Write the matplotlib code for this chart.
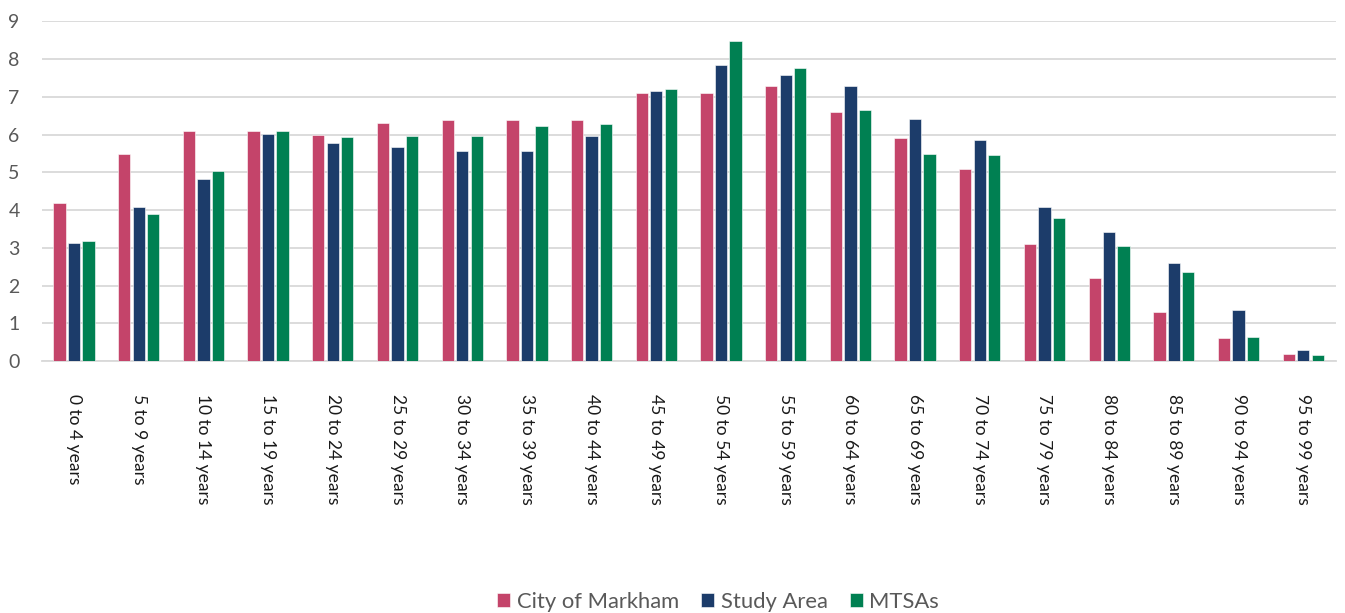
import numpy as np
import matplotlib.pyplot as plt

age_groups = ["0 to 4 years", "5 to 9 years", "10 to 14 years", "15 to 19 years",
              "20 to 24 years", "25 to 29 years", "30 to 34 years", "35 to 39 years",
              "40 to 44 years", "45 to 49 years", "50 to 54 years", "55 to 59 years",
              "60 to 64 years", "65 to 69 years", "70 to 74 years", "75 to 79 years",
              "80 to 84 years", "85 to 89 years", "90 to 94 years", "95 to 99 years"]

city_of_markham = [4.2, 5.5, 6.1, 6.1, 6.0, 6.3, 6.4, 6.4, 6.4, 7.1,
                   7.1, 7.3, 6.6, 5.9, 5.1, 3.1, 2.2, 1.3, 0.6, 0.2]
study_area = [3.14, 4.07, 4.83, 6.02, 5.77, 5.66, 5.58, 5.56, 5.96, 7.15,
              7.84, 7.57, 7.30, 6.42, 5.85, 4.07, 3.43, 2.59, 1.35, 0.28]
mtsas = [3.19, 3.90, 5.04, 6.11, 5.93, 5.96, 5.97, 6.24, 6.27, 7.21,
         8.49, 7.76, 6.65, 5.50, 5.47, 3.78, 3.06, 2.36, 0.63, 0.16]

series = [("City of Markham", city_of_markham, "#C4446A"),
          ("Study Area", study_area, "#1C3C6A"),
          ("MTSAs", mtsas, "#008052")]

plt.rcParams['font.family'] = ['Lato', 'DejaVu Sans']
text_color = "#595959"

fig = plt.figure(figsize=(13.45, 6.13), dpi=100)
ax = fig.add_axes([0.031, 0.411, 0.962, 0.554])

x = np.arange(len(age_groups))
offsets = [-0.224, 0, 0.224]
for (name, vals, color), off in zip(series, offsets):
    ax.bar(x + off, vals, width=0.19, color=color, label=name,
           edgecolor="white", linewidth=0.4, zorder=3)

ax.set_xlim(-0.5, len(age_groups) - 0.5)
ax.set_ylim(0, 9)
ax.set_yticks(range(0, 10))
ax.yaxis.grid(True, color="#D9D9D9", linewidth=1.3, zorder=0)
for s in ["top", "right", "left"]:
    ax.spines[s].set_visible(False)
ax.spines["bottom"].set_color("#D9D9D9")
ax.spines["bottom"].set_linewidth(1.3)
ax.tick_params(axis="y", length=0, labelsize=14, labelcolor=text_color, pad=20)
ax.tick_params(axis="x", length=0, labelsize=12.5, labelcolor="#1a1a1a", pad=24)
ax.set_xticks(x)
ax.set_xticklabels(age_groups, rotation=-90)
for lbl in ax.get_yticklabels():
    lbl.set_horizontalalignment("center")

fig.legend(loc="lower center", bbox_to_anchor=(0.534, -0.03), ncol=3, frameon=False,
           fontsize=15.8, labelcolor=text_color, handlelength=0.6, handleheight=0.6,
           handletextpad=0.3, columnspacing=1.0)

fig.savefig("out.png", dpi=100)
